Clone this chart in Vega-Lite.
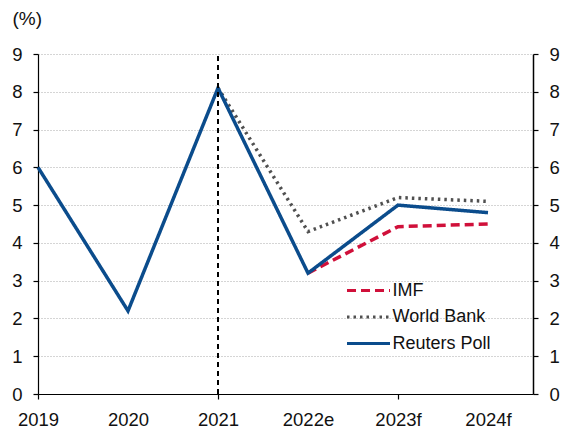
{
  "$schema": "https://vega.github.io/schema/vega-lite/v6.json",
  "width": 495,
  "height": 340,
  "autosize": {"type": "none"},
  "padding": {"left": 38, "top": 54, "right": 35, "bottom": 34},
  "background": "white",
  "config": {
    "font": "Liberation Sans",
    "view": {"stroke": null},
    "axis": {
      "labelFont": "Liberation Sans",
      "labelFontSize": 18.5,
      "labelColor": "#111111",
      "domainColor": "#000000",
      "domainWidth": 1.2,
      "tickColor": "#000000",
      "tickWidth": 1.2,
      "tickSize": 5
    },
    "legend": {
      "title": null,
      "orient": "none",
      "legendX": 318,
      "legendY": 224,
      "symbolType": "M-2,0H2",
      "symbolSize": 462,
      "symbolStrokeWidth": 3,
      "labelFont": "Liberation Sans",
      "labelFontSize": 18,
      "labelColor": "#111111",
      "labelOffset": 11.5,
      "rowPadding": 4.5
    }
  },
  "data": {
    "values": [
      {"year": "2022e", "series": "IMF", "value": 3.2},
      {"year": "2023f", "series": "IMF", "value": 4.43},
      {"year": "2024f", "series": "IMF", "value": 4.5},
      {"year": "2021", "series": "World Bank", "value": 8.1},
      {"year": "2022e", "series": "World Bank", "value": 4.3},
      {"year": "2023f", "series": "World Bank", "value": 5.2},
      {"year": "2024f", "series": "World Bank", "value": 5.1},
      {"year": "2019", "series": "Reuters Poll", "value": 6.0},
      {"year": "2020", "series": "Reuters Poll", "value": 2.2},
      {"year": "2021", "series": "Reuters Poll", "value": 8.1},
      {"year": "2022e", "series": "Reuters Poll", "value": 3.2},
      {"year": "2023f", "series": "Reuters Poll", "value": 5.0},
      {"year": "2024f", "series": "Reuters Poll", "value": 4.8}
    ]
  },
  "resolve": {"axis": {"y": "independent"}},
  "layer": [
    {
      "mark": {"type": "line", "strokeWidth": 3.5, "strokeCap": "butt", "strokeJoin": "miter"},
      "encoding": {
        "x": {
          "field": "year",
          "type": "ordinal",
          "scale": {
            "type": "point",
            "domain": ["2019", "2020", "2021", "2022e", "2023f", "2024f"],
            "padding": 0.25,
            "align": 0
          },
          "axis": {
            "title": null,
            "labelAngle": 0,
            "labelPadding": 11,
            "grid": false,
            "tickOpacity": {
              "condition": {"test": "datum.value === '2019' || datum.value === '2021' || datum.value === '2023f'", "value": 1},
              "value": 0
            }
          }
        },
        "y": {
          "field": "value",
          "type": "quantitative",
          "scale": {"domain": [0, 9], "nice": false},
          "axis": {
            "orient": "left",
            "values": [0, 1, 2, 3, 4, 5, 6, 7, 8, 9],
            "labelPadding": 11,
            "grid": true,
            "gridColor": "#aaaaaa",
            "gridDash": [1, 2],
            "gridWidth": 1,
            "title": "(%)",
            "titleFont": "Liberation Sans",
            "titleFontSize": 19,
            "titleFontWeight": "normal",
            "titleColor": "#111111",
            "titleAngle": 0,
            "titleAlign": "left",
            "titleBaseline": "middle",
            "titleX": -26,
            "titleY": -36
          }
        },
        "color": {
          "field": "series",
          "type": "nominal",
          "scale": {
            "domain": ["IMF", "World Bank", "Reuters Poll"],
            "range": ["#d0103a", "#505050", "#0b4c8c"]
          }
        },
        "strokeDash": {
          "field": "series",
          "type": "nominal",
          "scale": {
            "domain": ["IMF", "World Bank", "Reuters Poll"],
            "range": [[9, 5], [2.5, 4], [1, 0]]
          }
        }
      }
    },
    {
      "mark": {"type": "rule", "color": "#000000", "strokeWidth": 1, "strokeDash": [5, 4]},
      "encoding": {
        "x": {"datum": "2021", "type": "ordinal"},
        "y": {
          "datum": 0,
          "type": "quantitative",
          "axis": {
            "orient": "right",
            "values": [0, 1, 2, 3, 4, 5, 6, 7, 8, 9],
            "labelPadding": 11,
            "grid": false,
            "domain": true,
            "domainColor": "#000000",
            "domainWidth": 1.5,
            "ticks": true,
            "tickColor": "#000000",
            "tickWidth": 1.2,
            "title": null
          }
        },
        "y2": {"datum": 9}
      }
    }
  ]
}
